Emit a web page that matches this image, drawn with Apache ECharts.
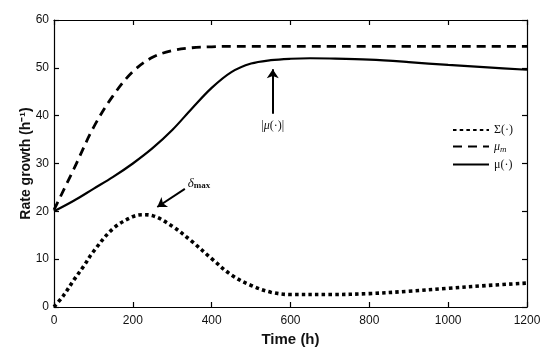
<!DOCTYPE html>
<html>
<head>
<meta charset="utf-8">
<script src="https://cdn.jsdelivr.net/npm/echarts@6/dist/echarts.min.js"></script>
<style>html,body{margin:0;padding:0;background:#fff}#c{width:550px;height:357px}</style>
</head>
<body>
<div id="c"></div>
<script>
// Data (time in hours)
const timeSigma = [0, 25, 50, 75, 100, 150, 200, 225, 250, 300, 350, 400, 450, 500, 550, 600, 700, 800, 900, 1000, 1100, 1200];
const sigma     = [0, 2.5, 5.6, 8.5, 11.6, 16.4, 18.9, 19.3, 19.1, 16.9, 13.7, 10.1, 6.7, 4.5, 3.1, 2.6, 2.6, 2.8, 3.3, 3.9, 4.5, 5.0];
const timeMu    = [0, 50, 100, 150, 200, 250, 300, 350, 400, 450, 500, 550, 600, 650, 700, 800, 900, 1000, 1100, 1200];
const muMax     = [20.3, 28.8, 37.5, 44.2, 49.2, 52.2, 53.6, 54.2, 54.4, 54.5, 54.5, 54.5, 54.5, 54.5, 54.5, 54.5, 54.5, 54.5, 54.5, 54.5];
const mu        = [20.0, 22.2, 24.7, 27.2, 30.0, 33.2, 37.0, 41.5, 45.8, 49.1, 50.9, 51.6, 51.9, 52.0, 51.95, 51.7, 51.2, 50.6, 50.1, 49.6];
const seriesNames = ['Σ(·)', 'μm', 'μ(·)'];
const xTicks = [0, 200, 400, 600, 800, 1000, 1200];
const yTicks = [0, 10, 20, 30, 40, 50, 60];
// annotations in data coordinates
const muPeakArrow = [[555, 40.4], [555, 49.7]];
const muPeakLabel = [555, 37.9];
const deltaArrow = [[332, 24.7], [262, 20.9]];
const deltaLabel = [368, 25.9];

const pair = (xs, ys) => xs.map((t, i) => [t, ys[i]]);
const sans = 'Liberation Sans, Arial, sans-serif';
const serif = 'Liberation Serif, DejaVu Serif, serif';

const chart = echarts.init(document.getElementById('c'));
const axisCommon = {
  type: 'value',
  axisLine: {show: true, onZero: false, lineStyle: {color: '#000', width: 1.2}},
  axisTick: {show: true, inside: true, length: 5, lineStyle: {color: '#000', width: 1.2}},
  splitLine: {show: false}
};
chart.setOption({
  animation: false,
  backgroundColor: '#fff',
  grid: {left: 54, right: 23, top: 20, bottom: 50},
  legend: {
    orient: 'vertical', left: 452, top: 124, padding: 0, itemWidth: 36, itemHeight: 12, itemGap: 4.5,
    data: seriesNames,
    itemStyle: {opacity: 0},
    textStyle: {fontFamily: serif, fontSize: 12, color: '#111',
      rich: {i: {fontFamily: serif, fontStyle: 'italic', fontSize: 12}, s: {fontFamily: serif, fontStyle: 'italic', fontSize: 9, verticalAlign: 'bottom', padding: [6, 0, 0, 0]}}},
    formatter: n => n === 'μm' ? '{i|μ}{s|m}' : n
  },
  xAxis: [
    Object.assign({}, axisCommon, {min: 0, max: 1200, interval: 200, position: 'bottom',
      axisLabel: {color: '#111', fontFamily: sans, fontSize: 12, margin: 8,
        formatter: v => xTicks.includes(v) ? String(v) : ''},
      name: 'Time (h)', nameLocation: 'middle', nameGap: 23,
      nameTextStyle: {fontFamily: sans, fontWeight: 'bold', fontSize: 15, color: '#111'}}),
    Object.assign({}, axisCommon, {min: 0, max: 1200, interval: 200, position: 'top', axisLabel: {show: false}})
  ],
  yAxis: [
    Object.assign({}, axisCommon, {min: 0, max: 60, interval: 10, position: 'left',
      axisLabel: {color: '#111', fontFamily: sans, fontSize: 12, margin: 5,
        formatter: v => yTicks.includes(v) ? String(v) : ''},
      name: 'Rate growth (h⁻¹)', nameLocation: 'middle', nameGap: 21, nameMoveOverlap: false,
      nameTextStyle: {fontFamily: sans, fontWeight: 'bold', fontSize: 14, color: '#111'}}),
    Object.assign({}, axisCommon, {min: 0, max: 60, interval: 10, position: 'right', axisLabel: {show: false}})
  ],
  series: [
    {name: seriesNames[0], type: 'line', data: pair(timeSigma, sigma), smooth: 0.35, symbol: 'none',
      lineStyle: {color: '#000', width: 3.6, type: [3.5, 3.2], cap: 'butt'}, itemStyle: {color: '#000'}},
    {name: seriesNames[1], type: 'line', data: pair(timeMu, muMax), smooth: 0.35, symbol: 'none',
      lineStyle: {color: '#000', width: 2.8, type: [9, 6], cap: 'butt'}, itemStyle: {color: '#000'}},
    {name: seriesNames[2], type: 'line', data: pair(timeMu, mu), smooth: 0.35, symbol: 'none',
      lineStyle: {color: '#000', width: 2.2, type: 'solid'}, itemStyle: {color: '#000'},
      markLine: {silent: true, symbol: ['none', 'arrow'], symbolSize: 9,
        lineStyle: {type: 'solid', color: '#000', width: 2}, itemStyle: {color: '#000'}, label: {show: false},
        data: [
          [{coord: muPeakArrow[0]}, {coord: muPeakArrow[1]}],
          [{coord: deltaArrow[0]}, {coord: deltaArrow[1]}]
        ]},
      markPoint: {silent: true, symbol: 'circle', symbolSize: 0,
        label: {show: true, position: 'inside', color: '#111', fontFamily: serif, fontSize: 12,
          rich: {
            i: {fontFamily: serif, fontStyle: 'italic', fontSize: 12},
            d: {fontFamily: serif, fontStyle: 'italic', fontSize: 13},
            s: {fontFamily: serif, fontWeight: 'bold', fontSize: 9, padding: [6, 0, 0, 0]}
          }},
        data: [
          {coord: muPeakLabel, label: {formatter: '|{i|μ}(·)|'}},
          {coord: deltaLabel, label: {formatter: '{d|δ}{s|max}'}}
        ]}
    }
  ]
});
</script>
</body>
</html>
